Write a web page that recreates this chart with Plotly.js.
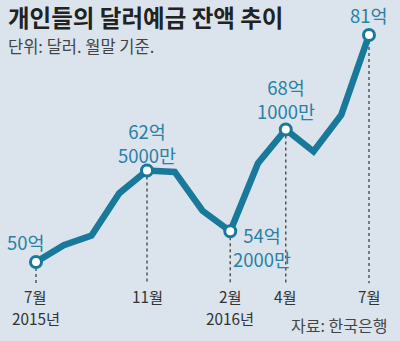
<!DOCTYPE html>
<html><head><meta charset="utf-8">
<script src="https://cdn.plot.ly/plotly-3.0.1.min.js"></script>
<style>html,body{margin:0;padding:0;background:#dbe4ec;}#chart{width:400px;height:341px;}</style>
</head><body><div id="chart"></div>
<script>
// 13 months: Jul 2015 .. Jul 2016 (values in 억 달러)
const months = ['2015-07','2015-08','2015-09','2015-10','2015-11','2015-12','2016-01','2016-02','2016-03','2016-04','2016-05','2016-06','2016-07'];
const values = [50, 52.3, 53.6, 59.4, 62.5, 62.3, 57.0, 54.2, 63.5, 68.1, 65.1, 70.1, 81];
const markIdx = [0, 4, 7, 9, 12];
const tickMonth = ['7월','11월','2월','4월','7월'];
const tickYear = ['2015년','','2016년','',''];
const valueLabels = ['50억','62억<br>5000만','54억<br>2000만','68억<br>1000만','81억'];

const FONT = '"Noto Sans CJK KR", "Noto Sans", sans-serif';
const LINE = '#18799b';
const LBL = '#2a80a5';
const idx = months.map((m,i)=>i);

const traces = [
  {x: idx, y: values, type:'scatter', mode:'lines', line:{color:LINE, width:6.5}, hoverinfo:'skip'},
  {x: markIdx, y: markIdx.map(i=>values[i]), type:'scatter', mode:'markers',
   marker:{size:11, color:'#ffffff', line:{color:LINE, width:3}}, hoverinfo:'skip'}
];

const shapes = markIdx.map(i=>({type:'line', xref:'x', yref:'y', x0:i, x1:i, y0:values[i], y1:47.1,
  line:{color:'#555', width:1.5, dash:'dot'}, layer:'below'}));

const H = 341;
const ann = [];
markIdx.forEach((i,k)=>{
  ann.push({x:i, y:1 - 295.5/H, xref:'x', yref:'paper', text:tickMonth[k], showarrow:false,
    font:{family:FONT, size:15.3, color:'#333'}, xanchor:'center', yanchor:'middle'});
  if (tickYear[k]) ann.push({x:i, y:1 - 318.2/H, xref:'x', yref:'paper', text:tickYear[k], showarrow:false,
    font:{family:FONT, size:15.3, color:'#333'}, xanchor:'center', yanchor:'middle'});
});
// value labels
const lblPos = [
  {ax: -1.11, ay: 52.8, xa:'left'},
  {ax: 4, ay: 66.2, xa:'center'},
  {ax: 8.14, ay: 52.05, xa:'center'},
  {ax: 9, ay: 72.3, xa:'center'},
  {ax: 12, ay: 83.7, xa:'center'}
];
markIdx.forEach((i,k)=>{
  ann.push({x:lblPos[k].ax, y:lblPos[k].ay, xref:'x', yref:'y', text:valueLabels[k], showarrow:false,
    font:{family:FONT, size:18.5, color:LBL}, xanchor:lblPos[k].xa, yanchor:'middle', align:'center'});
});
ann.push({x:0.015, y:1 - 17.2/H, xref:'paper', yref:'paper', text:'<b>개인들의 달러예금 잔액 추이</b>', showarrow:false,
  font:{family:FONT, size:23.5, color:'#222'}, xanchor:'left', yanchor:'middle'});
ann.push({x:0.015, y:1 - 46.2/H, xref:'paper', yref:'paper', text:'단위: 달러. 월말 기준.', showarrow:false,
  font:{family:FONT, size:16.5, color:'#444'}, xanchor:'left', yanchor:'middle'});
ann.push({x:0.973, y:1 - 325/H, xref:'paper', yref:'paper', text:'자료: 한국은행', showarrow:false,
  font:{family:FONT, size:16, color:'#444'}, xanchor:'right', yanchor:'middle'});

const layout = {
  width:400, height:341, margin:{l:0,r:0,t:0,b:0},
  paper_bgcolor:'#dbe4ec', plot_bgcolor:'#dbe4ec', showlegend:false,
  xaxis:{range:[-1.297, 13.117], visible:false, fixedrange:true},
  yaxis:{range:[39.21, 85.79], visible:false, fixedrange:true},
  shapes: shapes, annotations: ann
};
Plotly.newPlot('chart', traces, layout, {displayModeBar:false, staticPlot:true});
</script></body></html>
